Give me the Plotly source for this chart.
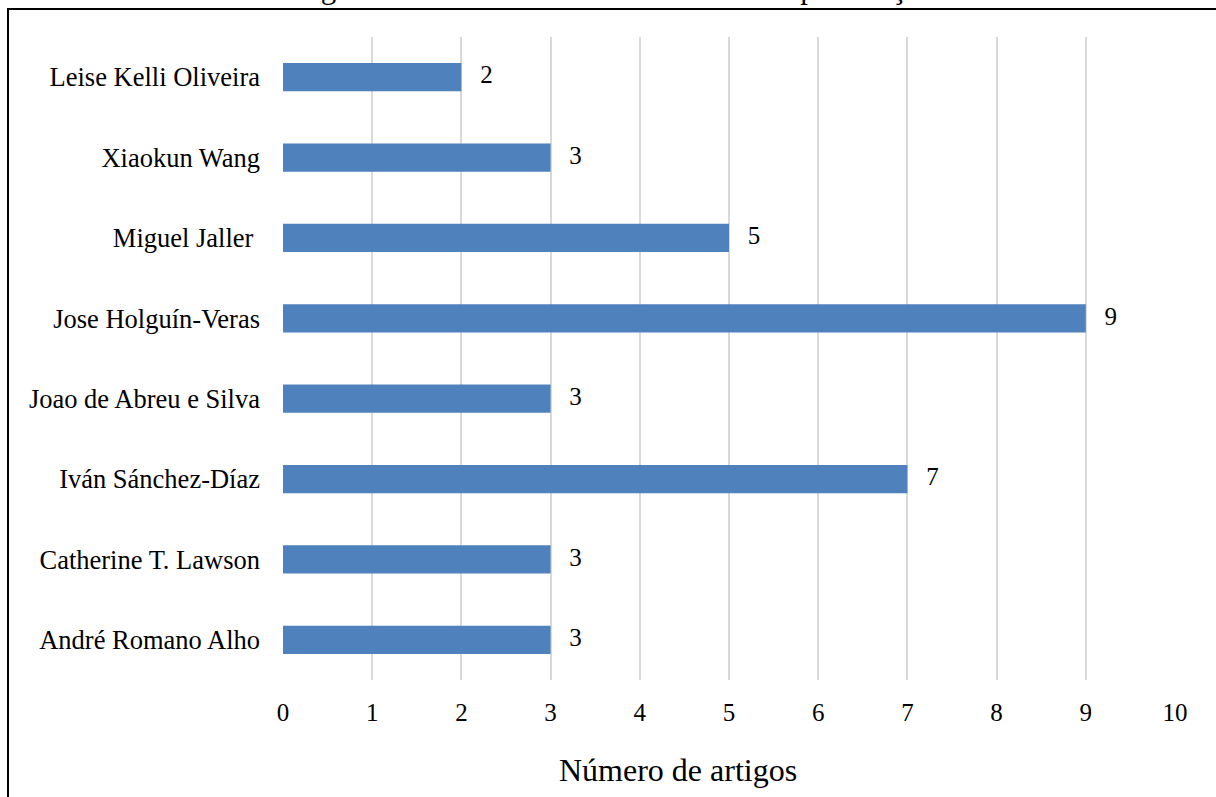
import plotly.graph_objects as go

authors = ["André Romano Alho", "Catherine T. Lawson", "Iván Sánchez-Díaz",
           "Joao de Abreu e Silva", "Jose Holguín-Veras", "Miguel Jaller ",
           "Xiaokun Wang", "Leise Kelli Oliveira"]
articles = [3, 3, 7, 3, 9, 5, 3, 2]
x_ticks = list(range(0, 11))

W, H = 1216, 797
L, R, T, B = 283, 41, 37, 117

fig = go.Figure()
fig.add_trace(go.Bar(
    y=authors, x=articles, orientation="h",
    marker=dict(color="#4F81BD", line=dict(width=0)),
))
fig.add_trace(go.Scatter(
    y=authors, x=articles, mode="text",
    text=[f"   {v}" for v in articles], textposition="middle right",
    textfont=dict(family="Liberation Serif", size=25, color="black"),
    cliponaxis=False, hoverinfo="skip",
))

fig.update_layout(
    width=W, height=H,
    margin=dict(l=L, r=R, t=T, b=B),
    paper_bgcolor="white", plot_bgcolor="white",
    bargap=0.65, showlegend=False,
    xaxis=dict(range=[0, 10], tickvals=x_ticks, showgrid=True,
               gridcolor="#D9D9D9", gridwidth=2, zeroline=False,
               showline=False, ticks="", ticklabelstandoff=15,
               tickfont=dict(family="Liberation Serif", size=25, color="black")),
    yaxis=dict(showgrid=False, zeroline=False, showline=False, ticks="",
               ticklabelstandoff=22,
               tickfont=dict(family="Liberation Serif", size=26.5, color="black")),
    shapes=[dict(type="rect", xref="paper", yref="paper",
                 x0=-(L - 8) / (W - L - R), x1=(W - L + 20) / (W - L - R),
                 y0=-(B + 20) / (H - T - B), y1=1 + (T - 9) / (H - T - B),
                 line=dict(color="black", width=2), layer="below")],
    annotations=[
        dict(text="Número de artigos", xref="paper", yref="paper",
             x=(678 - L) / (W - L - R), y=-(770 - (H - B)) / (H - T - B),
             xanchor="center", yanchor="middle", showarrow=False,
             font=dict(family="Liberation Serif", size=32, color="black")),
        dict(text="Figura 4: Autores com maior número de publicações",
             xref="paper", yref="paper",
             x=(621 - L) / (W - L - R), y=1 + (T - 7) / (H - T - B),
             xanchor="center", yanchor="bottom", showarrow=False,
             font=dict(family="Liberation Serif", size=31, color="black")),
    ],
)

fig.write_html("out.html")
